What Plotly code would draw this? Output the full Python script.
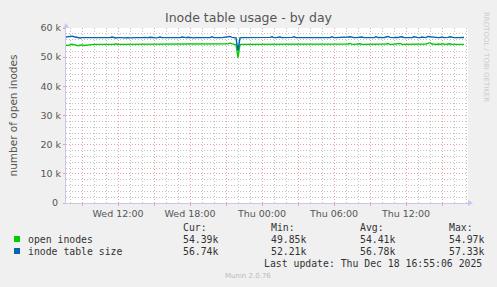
import pandas as pd
import plotly.graph_objects as go

# ---- data (thousands of inodes, 10-minute samples) ----
start_time = "2025-12-17 07:40"
step = "10min"

inode_table_size = [
    56.9, 57.0, 57.1, 57.2, 57.0, 56.8, 56.7, 56.6, 56.7, 56.7,
    56.6, 56.6, 56.7, 56.6, 56.6, 56.6, 56.7, 56.6, 56.6, 56.7,
    56.8, 56.7, 56.7, 56.9, 56.7, 56.6, 56.7, 56.8, 56.7, 56.6,
    56.7, 56.7, 56.6, 56.7, 56.8, 56.7, 56.7, 56.6, 56.7, 56.8,
    56.7, 56.7, 56.8, 56.7, 56.7, 56.6, 56.7, 56.9, 56.7, 56.7,
    56.8, 56.7, 56.6, 56.7, 56.7, 56.8, 56.7, 56.7, 56.9, 56.7,
    56.7, 56.8, 56.7, 56.7, 56.6, 56.7, 56.8, 56.7, 56.7, 56.7,
    56.8, 56.7, 56.7, 57.0, 56.7, 56.7, 56.8, 56.7, 56.7, 56.8,
    56.7, 56.9, 57.1, 56.8, 56.7, 56.6, 52.21, 56.6, 56.7, 56.7,
    56.7, 56.8, 56.7, 56.7, 56.7, 56.8, 56.7, 56.7, 56.7, 56.7,
    56.9, 56.7, 56.8, 57.0, 56.7, 56.7, 56.8, 56.9, 56.7, 56.7,
    56.7, 56.9, 56.7, 56.8, 57.0, 56.7, 56.7, 56.7, 56.8, 56.7,
    56.7, 56.9, 56.7, 56.7, 56.8, 56.7, 56.7, 56.9, 56.7, 56.7,
    56.8, 56.7, 56.7, 57.0, 56.7, 56.7, 56.7, 56.8, 56.7, 56.7,
    56.7, 56.9, 57.0, 56.8, 56.7, 56.7, 56.8, 56.7, 56.9, 56.7,
    56.7, 56.8, 56.7, 56.7, 56.7, 57.0, 56.7, 56.8, 56.7, 56.7,
    56.9, 57.1, 56.8, 56.7, 56.7, 56.8, 56.7, 56.9, 57.0, 56.7,
    56.7, 56.8, 56.7, 56.7, 57.0, 56.8, 56.7, 56.7, 56.9, 56.8,
    56.7, 57.1, 57.0, 56.8, 56.7, 56.8, 56.7, 56.7, 56.9, 56.7,
    56.7, 56.8, 57.0, 56.8, 56.7, 56.7, 56.6, 56.7, 56.8, 56.74,
]

open_inodes = [
    54.1, 54.0, 54.2, 54.4, 54.3, 54.0, 53.9, 54.1, 54.2, 54.0,
    54.1, 54.3, 54.4, 54.3, 54.4, 54.4, 54.3, 54.4, 54.4, 54.5,
    54.4, 54.4, 54.5, 54.4, 54.4, 54.6, 54.4, 54.4, 54.5, 54.4,
    54.4, 54.4, 54.5, 54.4, 54.6, 54.4, 54.4, 54.5, 54.4, 54.4,
    54.5, 54.4, 54.4, 54.6, 54.4, 54.4, 54.5, 54.4, 54.4, 54.5,
    54.4, 54.6, 54.4, 54.4, 54.5, 54.4, 54.4, 54.6, 54.4, 54.4,
    54.5, 54.4, 54.4, 54.4, 54.5, 54.4, 54.6, 54.4, 54.4, 54.5,
    54.4, 54.4, 54.5, 54.4, 54.4, 54.6, 54.4, 54.5, 54.4, 54.4,
    54.5, 54.6, 54.8, 54.5, 54.4, 54.4, 49.85, 54.4, 54.4, 54.5,
    54.4, 54.4, 54.5, 54.4, 54.4, 54.5, 54.4, 54.4, 54.5, 54.4,
    54.4, 54.5, 54.4, 54.4, 54.6, 54.4, 54.4, 54.5, 54.4, 54.4,
    54.5, 54.4, 54.4, 54.6, 54.4, 54.4, 54.5, 54.4, 54.4, 54.5,
    54.4, 54.5, 54.6, 54.4, 54.4, 54.5, 54.4, 54.4, 54.5, 54.4,
    54.4, 54.5, 54.4, 54.6, 54.4, 54.4, 54.5, 54.4, 54.4, 54.6,
    54.4, 54.5, 54.7, 54.4, 54.4, 54.5, 54.4, 54.6, 54.4, 54.4,
    54.5, 54.4, 54.4, 54.6, 54.4, 54.5, 54.4, 54.4, 54.6, 54.4,
    54.5, 54.7, 54.4, 54.4, 54.5, 54.4, 54.6, 54.7, 54.4, 54.4,
    54.5, 54.4, 54.4, 54.6, 54.5, 54.4, 54.4, 54.6, 54.5, 54.4,
    54.5, 54.7, 54.97, 54.5, 54.4, 54.4, 54.5, 54.4, 54.6, 54.4,
    54.4, 54.5, 54.6, 54.4, 54.4, 54.4, 54.5, 54.4, 54.4, 54.39,
]

series_names = ["open inodes", "inode table size"]
series_colors = ["#00CC00", "#0066B3"]
stat_headers = ["Cur:", "Min:", "Avg:", "Max:"]
stats_open = ["54.39k", "49.85k", "54.41k", "54.97k"]
stats_size = ["56.74k", "52.21k", "56.78k", "57.33k"]

y_tick_vals = [0, 10000, 20000, 30000, 40000, 50000, 60000]
y_tick_text = ["0\u00a0", "10 k", "20 k", "30 k", "40 k", "50 k", "60 k"]

x_range = ["2025-12-17 07:40", "2025-12-18 17:10"]
x_major = ["2025-12-17 09:00", "2025-12-17 12:00", "2025-12-17 15:00",
           "2025-12-17 18:00", "2025-12-17 21:00", "2025-12-18 00:00",
           "2025-12-18 03:00", "2025-12-18 06:00", "2025-12-18 09:00",
           "2025-12-18 12:00", "2025-12-18 15:00"]
x_major_text = ["", "Wed 12:00", "", "Wed 18:00", "", "Thu 00:00",
                "", "Thu 06:00", "", "Thu 12:00", ""]

title = "Inode table usage - by day"
y_title = "number of open inodes"
last_update = "Last update: Thu Dec 18 16:55:06 2025"
footer = "Munin 2.0.76"
side_text = "RRDTOOL / TOBI OETIKER"

# ---- figure ----
W, H = 497, 287
L, R, T, B = 66, 468, 28, 203


def xp(px):
    return (px - L) / (R - L)


def yp(py):
    return (B - py) / (B - T)


times = pd.date_range(start_time, periods=len(open_inodes), freq=step)

fig = go.Figure()
fig.add_trace(go.Scatter(x=times, y=[v * 1000 for v in open_inodes],
                         mode="lines", line=dict(color=series_colors[0], width=1.4),
                         name=series_names[0], hoverinfo="skip"))
fig.add_trace(go.Scatter(x=times, y=[v * 1000 for v in inode_table_size],
                         mode="lines", line=dict(color=series_colors[1], width=1.4),
                         name=series_names[1], hoverinfo="skip"))

tick_font = dict(family="DejaVu Sans", size=9.5, color="#555555")
major_grid = "#EDA0A0"
minor_grid = "#C2C2C2"
dots = "1px,2px"

fig.update_layout(
    width=W, height=H,
    margin=dict(l=L, r=W - R, t=T, b=H - B, pad=0),
    paper_bgcolor="#F0F0F0",
    plot_bgcolor="#FFFFFF",
    showlegend=False,
    xaxis=dict(
        type="date", range=x_range,
        tickmode="array", tickvals=x_major, ticktext=x_major_text,
        tickfont=tick_font, ticks="outside", ticklen=2, tickcolor=major_grid,
        showgrid=True, gridcolor=major_grid, griddash=dots, gridwidth=1,
        minor=dict(dtick=3600000, showgrid=True, gridcolor=minor_grid,
                   griddash=dots, gridwidth=1),
        showline=True, linecolor="#C8C8E8", linewidth=1,
        zeroline=False, fixedrange=True,
    ),
    yaxis=dict(
        range=[0, 60000],
        tickmode="array", tickvals=y_tick_vals, ticktext=y_tick_text,
        tickfont=tick_font, ticks="outside", ticklen=2, tickcolor=major_grid,
        showgrid=True, gridcolor=major_grid, griddash=dots, gridwidth=1,
        minor=dict(dtick=2000, showgrid=True, gridcolor=minor_grid,
                   griddash=dots, gridwidth=1),
        showline=True, linecolor="#C8C8E8", linewidth=1,
        zeroline=False, fixedrange=True,
        title=dict(text=y_title, font=dict(family="DejaVu Sans", size=10.5, color="#555555"),
                   standoff=20),
    ),
)

annotations = []
annotations.append(dict(text=title, x=xp(249), y=yp(18), xref="paper", yref="paper",
                        xanchor="center", yanchor="middle", showarrow=False,
                        font=dict(family="DejaVu Sans", size=12.5, color="#555555")))
annotations.append(dict(text=side_text, x=xp(486), y=yp(57), xref="paper", yref="paper",
                        xanchor="center", yanchor="middle", showarrow=False, textangle=90,
                        font=dict(family="DejaVu Sans", size=7, color="#CCCCCC")))

mono = dict(family="DejaVu Sans Mono", size=9.8, color="#333333")
col_x = [181, 269, 358, 447]
for hx, h in zip(col_x, stat_headers):
    annotations.append(dict(text=h, x=xp(hx), y=yp(227), xref="paper", yref="paper",
                            xanchor="left", yanchor="middle", showarrow=False, font=mono))
rows = [(series_names[0], stats_open, 239), (series_names[1], stats_size, 251)]
for name, stats, py in rows:
    annotations.append(dict(text=name, x=xp(26), y=yp(py), xref="paper", yref="paper",
                            xanchor="left", yanchor="middle", showarrow=False, font=mono))
    for hx, s in zip(col_x, stats):
        annotations.append(dict(text=s, x=xp(hx), y=yp(py), xref="paper", yref="paper",
                                xanchor="left", yanchor="middle", showarrow=False, font=mono))
annotations.append(dict(text=last_update, x=xp(262), y=yp(263), xref="paper", yref="paper",
                        xanchor="left", yanchor="middle", showarrow=False, font=mono))
annotations.append(dict(text=footer, x=xp(248), y=yp(276), xref="paper", yref="paper",
                        xanchor="center", yanchor="middle", showarrow=False,
                        font=dict(family="DejaVu Sans", size=7, color="#BBBBBB")))
fig.update_layout(annotations=annotations)

shapes = []
for (name, stats, py), col in zip(rows, series_colors):
    shapes.append(dict(type="rect", xref="paper", yref="paper",
                       x0=xp(14), x1=xp(20), y0=yp(py - 3), y1=yp(py + 3),
                       fillcolor=col, line=dict(width=0)))
# axis arrows
shapes.append(dict(type="path", xref="paper", yref="paper",
                   path=f"M {xp(468)},{yp(200)} L {xp(473)},{yp(203)} L {xp(468)},{yp(206)} Z",
                   fillcolor="#C8C8F0", line=dict(width=0)))
shapes.append(dict(type="path", xref="paper", yref="paper",
                   path=f"M {xp(63)},{yp(28)} L {xp(66)},{yp(23)} L {xp(69)},{yp(28)} Z",
                   fillcolor="#C8C8F0", line=dict(width=0)))
fig.update_layout(shapes=shapes)

fig.write_html("out.html")
